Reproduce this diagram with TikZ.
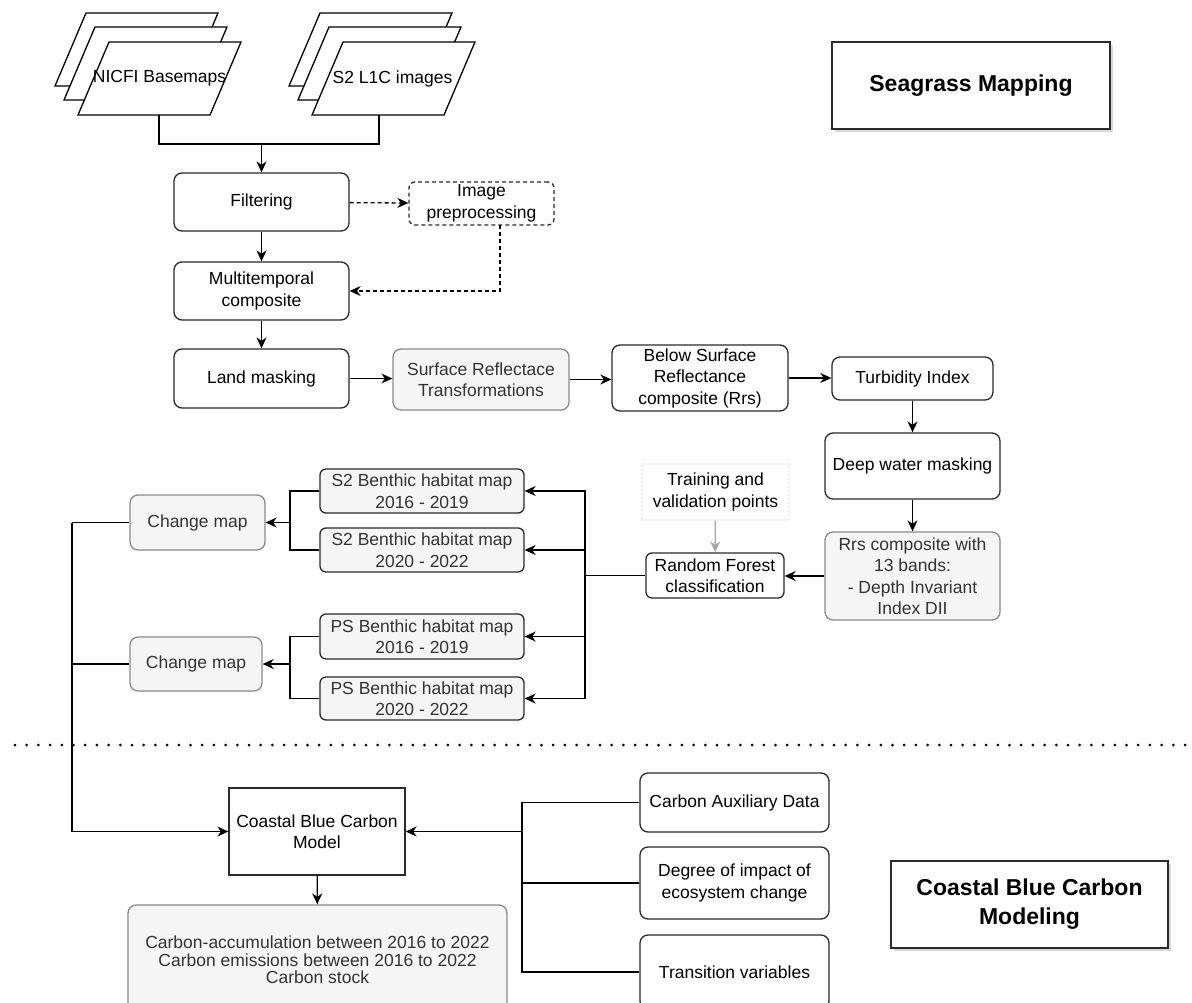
\documentclass[tikz,border=0pt]{standalone}
\usepackage{fontspec}
\setmainfont{Liberation Sans}
\usetikzlibrary{arrows.meta,shadows,calc}
\definecolor{gfill}{HTML}{F5F5F5}
\definecolor{gline}{HTML}{8A8A8A}
\definecolor{gtext}{HTML}{333333}
\definecolor{dline}{HTML}{2A2A2A}
\begin{document}
\begin{tikzpicture}[x=1pt,y=-1pt,
  font=\fontsize{17.5}{21.5}\selectfont,
  line width=1.3pt,
  >={Stealth[length=11pt,width=10pt,inset=3.5pt]},
  box/.style={draw=dline, rounded corners=8pt, align=center, inner sep=1pt, fill=white},
  graybox/.style={draw=gline, rounded corners=8pt, align=center, inner sep=1pt, fill=gfill, text=gtext},
  mapbox/.style={draw=dline, rounded corners=6pt, align=center, inner sep=1pt, fill=gfill, text=gtext},
  titlebox/.style={draw=dline, align=center, fill=white, font=\fontsize{23}{29}\selectfont\bfseries,
    drop shadow={shadow xshift=3pt, shadow yshift=-3pt, opacity=0.3}},
  dashbox/.style={draw=dline, rounded corners=6pt, align=center, inner sep=1pt, dash pattern=on 4pt off 3pt},
  dotbox/.style={draw=gray!60, align=center, inner sep=1pt, line width=1.2pt, dash pattern=on 0pt off 4pt, line cap=round},
  para/.style={draw=black, fill=white, line join=miter},
  sep/.style={line width=3pt, dash pattern=on 0pt off 11.7pt, line cap=round}
]
\useasboundingbox (0,0) rectangle (1192,1002);
\clip (0,0) rectangle (1192,1002);

% ---- stacked parallelograms
\draw[para] (86,13) -- (218,13) -- (187,86) -- (55,86) -- cycle;
\draw[para] (95,27) -- (227,27) -- (196,100) -- (64,100) -- cycle;
\draw[para] (109,42) -- (241,42) -- (210,115) -- (78,115) -- cycle;
\draw[para] (320,13) -- (452,13) -- (421,86) -- (289,86) -- cycle;
\draw[para] (329,27) -- (461,27) -- (430,100) -- (298,100) -- cycle;
\draw[para] (343,42) -- (475,42) -- (444,115) -- (312,115) -- cycle;
\node[inner sep=0pt] (nicfi) at (159.5,78.5) {NICFI Basemaps};
\node[inner sep=0pt] (s2img) at (392.5,78.5) {S2 L1C images};
\coordinate (nb) at (159,115);
\coordinate (sb) at (379,115);
\coordinate (jn) at (261.5,144);

% ---- titles
\node[titlebox, minimum width=278pt, minimum height=87pt] (t1) at (971,85.5) {Seagrass Mapping};
\node[titlebox, minimum width=277pt, minimum height=87pt] (t2) at (1029.5,904.5) {Coastal Blue Carbon\\Modeling};

% ---- seagrass chain
\node[box, minimum width=175pt, minimum height=58pt] (filt) at (261.5,202) {Filtering};
\node[dashbox, minimum width=145pt, minimum height=43pt] (imgpre) at (481.5,203.5) {Image\\preprocessing};
\node[box, minimum width=175pt, minimum height=58pt] (multi) at (261.5,291) {Multitemporal\\composite};
\node[box, minimum width=175pt, minimum height=59pt] (land) at (261.5,378.5) {Land masking};
\node[graybox, minimum width=176pt, minimum height=61pt] (surf) at (481,379.5) {Surface Reflectace\\Transformations};
\node[box, minimum width=176pt, minimum height=66pt] (below) at (700,378) {Below Surface\\Reflectance\\composite (Rrs)};
\node[box, minimum width=161pt, minimum height=43pt] (turb) at (912.5,378.5) {Turbidity Index};
\node[box, minimum width=175pt, minimum height=66pt] (deep) at (912.5,466) {Deep water masking};
\node[graybox, minimum width=175pt, minimum height=88pt] (rrs) at (912.5,576) {Rrs composite with\\13 bands:\\- Depth Invariant\\Index DII};
\node[box, rounded corners=6pt, minimum width=138pt, minimum height=45pt] (rf) at (715,575.5) {Random Forest\\classification};
\node[dotbox, minimum width=147pt, minimum height=56pt] (train) at (715.5,492) {Training and\\validation points};

\node[mapbox, minimum width=204pt, minimum height=44pt] (s2a) at (422,491) {S2 Benthic habitat map\\2016 - 2019};
\node[mapbox, minimum width=204pt, minimum height=44pt] (s2b) at (422,550) {S2 Benthic habitat map\\2020 - 2022};
\node[mapbox, minimum width=204pt, minimum height=45pt] (psa) at (422,636.5) {PS Benthic habitat map\\2016 - 2019};
\node[mapbox, minimum width=204pt, minimum height=43pt] (psb) at (422,698.5) {PS Benthic habitat map\\2020 - 2022};
\node[graybox, minimum width=135pt, minimum height=55pt] (cm1) at (197.5,522.5) {Change map};
\node[graybox, minimum width=132pt, minimum height=54pt] (cm2) at (196,664) {Change map};

% ---- carbon model
\node[draw=dline, align=center, fill=white, minimum width=176pt, minimum height=87pt] (model) at (317,831.5) {Coastal Blue Carbon\\Model};
\node[graybox, minimum width=379pt, minimum height=110pt, font=\fontsize{17.5}{17.5}\selectfont] (out) at (317.5,960) {Carbon-accumulation between 2016 to 2022\\Carbon emissions between 2016 to 2022\\Carbon stock};
\node[box, minimum width=189pt, minimum height=59pt] (aux) at (734.5,802.5) {Carbon Auxiliary Data};
\node[box, minimum width=189pt, minimum height=72pt] (deg) at (734.5,883) {Degree of impact of\\ecosystem change};
\node[box, minimum width=189pt, minimum height=74pt] (trans) at (734.5,972) {Transition variables};

% ---- separator
\draw[sep] (15,745) -- (1192,745);

% ---- connectors
\draw (nb) |- (jn) -| (sb);
\draw[->] (jn) -- (filt.north);
\draw[->] (filt) -- (multi);
\draw[->, dash pattern=on 4pt off 3pt] (filt) -- (imgpre);
\coordinate (ipb) at (500,225);
\draw[->, dash pattern=on 4pt off 3pt] (ipb) |- (multi.east);
\draw[->] (multi) -- (land);
\draw[->] (land) -- (surf.west |- land);
\draw[->] (surf) -- (below.west |- surf);
\draw[->] (below.east) -- (turb.west |- below.east);
\draw[->] (turb) -- (deep);
\draw[->] (deep) -- (rrs);
\draw[->] (rrs.west) -- (rf.east |- rrs.west);
\draw[->, draw=gray!70] (train) -- (rf);

\coordinate (bus) at (585,575.5);
\draw (rf.west) -- (bus);
\draw[->] (bus) |- (s2a.east);
\draw[->] (bus) |- (s2b.east);
\draw[->] (bus) |- (psa.east);
\draw[->] (bus) |- (psb.east);

\coordinate (b1) at (290,522.5);
\draw (s2a.west) -| (b1) |- (s2b.west);
\draw[->] (b1) -- (cm1.east);
\coordinate (b2) at (290,664);
\draw (psa.west) -| (b2) |- (psb.west);
\draw[->] (b2) -- (cm2.east);

\coordinate (L) at (72,522.5);
\draw (cm1.west) -- (L);
\draw (cm2.west) -- (cm2.west -| L);
\draw[->] (L) |- (model.west);

\coordinate (R) at (522,831.5);
\draw (aux.west) -| (R);
\draw (R) |- (trans.west);
\draw (deg.west) -- (deg.west -| R);
\draw[->] (R) -- (model.east);
\draw[->] (model) -- (out);
\end{tikzpicture}
\end{document}
